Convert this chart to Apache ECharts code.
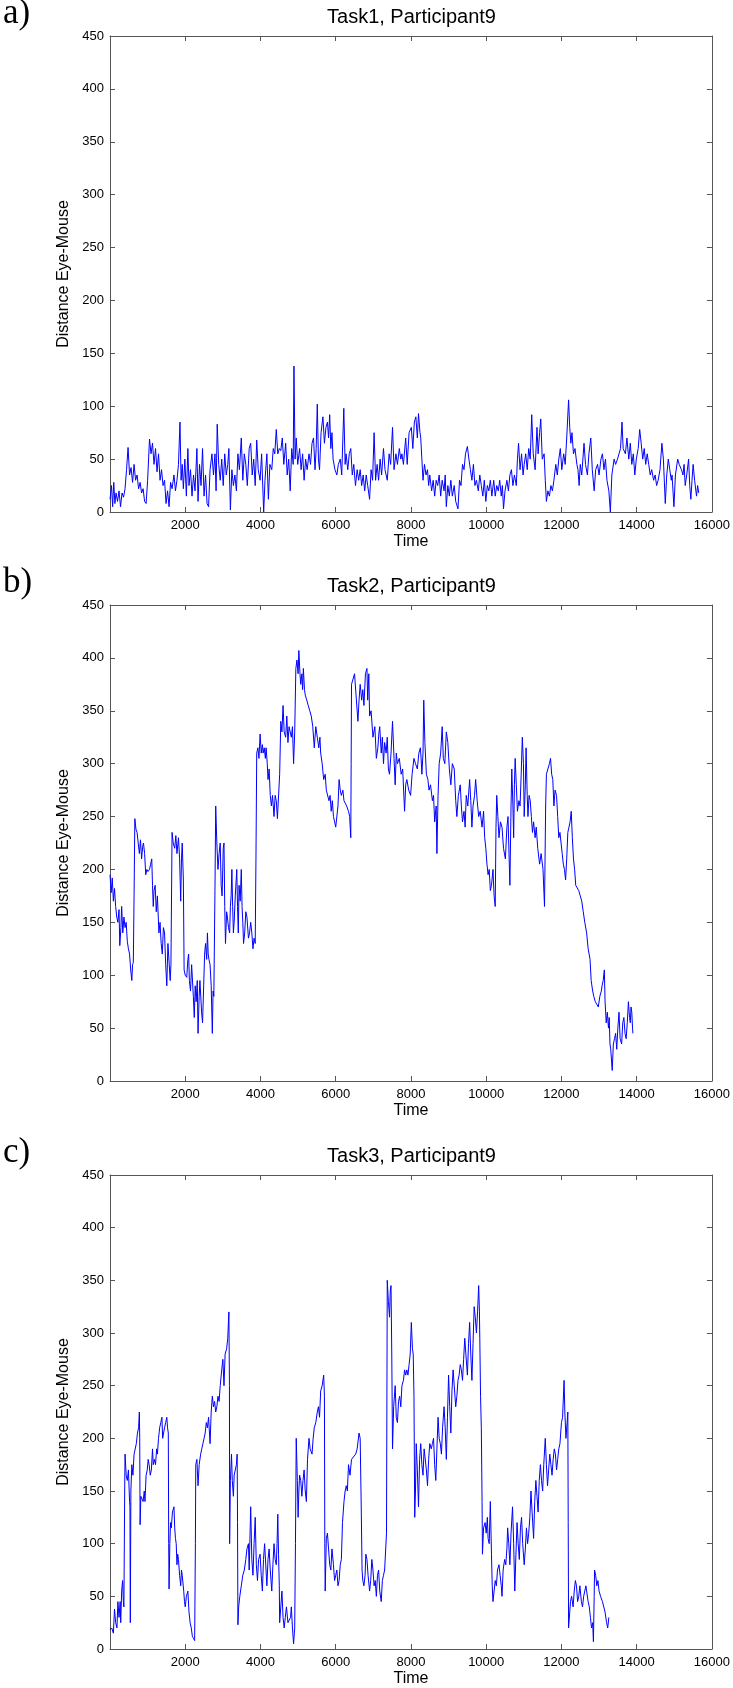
<!DOCTYPE html>
<html>
<head>
<meta charset="utf-8">
<script src="https://cdn.jsdelivr.net/npm/echarts@6/dist/echarts.min.js"></script>
<style>
html,body{margin:0;padding:0;background:#fff;}
#chart{width:733px;height:1688px;}
</style>
</head>
<body>
<div id="chart"></div>
<script>
// ---- tick labels / titles ----
var xTicks = [0, 2000, 4000, 6000, 8000, 10000, 12000, 14000, 16000];
var yTicks = [0, 50, 100, 150, 200, 250, 300, 350, 400, 450];
var panelLabels = ['a)', 'b)', 'c)'];
var panelTitles = ['Task1, Participant9', 'Task2, Participant9', 'Task3, Participant9'];

// ---- Task 1 ----
var time1 = [0,40,70,100,130,160,200,240,280,320,360,400,440,480,520,560,600,640,680,720,760,800,840,880,920,960,1000,1050,1090,1130,1170,1210,1250,1290,1330,1370,1410,1450,1490,1530,1570,1610,1650,1700,1740,1780,1820,1860,1890,1920,1950,1990,2030,2070,2100,2140,2180,2220,2260,2310,2340,2380,2420,2460,2500,2540,2580,2620,2660,2710,2750,2790,2820,2850,2890,2930,2970,3010,3050,3090,3130,3160,3200,3240,3280,3320,3360,3400,3440,3490,3530,3570,3610,3650,3700,3740,3780,3820,3860,3900,3940,3990,4030,4085,4120,4170,4210,4250,4300,4340,4380,4420,4460,4500,4540,4580,4620,4670,4710,4750,4790,4830,4870,4890,4920,4950,4990,5040,5080,5120,5160,5200,5240,5290,5330,5370,5410,5450,5480,5510,5540,5570,5610,5660,5700,5740,5780,5810,5840,5870,5900,5930,5980,6030,6070,6120,6160,6215,6250,6275,6320,6360,6400,6440,6480,6525,6570,6610,6650,6690,6730,6770,6810,6850,6900,6940,6980,7020,7060,7100,7140,7180,7220,7270,7310,7370,7420,7460,7510,7550,7600,7640,7690,7730,7760,7800,7860,7900,7950,8010,8050,8090,8130,8170,8200,8240,8260,8290,8320,8360,8400,8440,8470,8500,8550,8590,8630,8670,8710,8750,8790,8830,8880,8910,8940,8980,9020,9060,9100,9150,9190,9250,9290,9330,9370,9410,9450,9500,9540,9580,9620,9660,9700,9740,9790,9830,9870,9910,9950,9990,10030,10070,10110,10150,10200,10240,10280,10320,10360,10400,10430,10460,10500,10550,10590,10630,10670,10710,10750,10800,10830,10860,10900,10940,10980,11010,11050,11090,11130,11170,11210,11250,11300,11350,11380,11420,11450,11490,11540,11570,11600,11640,11680,11720,11760,11800,11850,11890,11930,11970,12010,12060,12100,12140,12190,12220,12250,12280,12320,12360,12410,12440,12470,12500,12540,12600,12640,12690,12730,12780,12820,12870,12910,12960,13000,13050,13090,13130,13170,13210,13260,13300,13340,13400,13440,13490,13530,13570,13610,13640,13700,13740,13790,13830,13870,13910,13950,13990,14040,14080,14120,14160,14200,14240,14280,14320,14360,14400,14450,14490,14530,14570,14620,14670,14710,14760,14800,14840,14880,14920,14940,14990,15030,15090,15130,15190,15230,15260,15290,15330,15380,15410,15440,15470,15500,15540,15590,15620,15650];
var dist1 = [12,25,5,28,8,18,10,20,5,18,14,22,40,61,35,42,28,45,30,35,22,28,18,22,10,8,30,69,55,65,45,60,38,55,30,40,25,30,8,20,5,28,22,35,20,30,45,85,30,45,22,50,15,60,25,40,15,35,20,60,10,45,25,60,15,35,8,5,40,55,35,55,20,83,45,30,50,25,55,35,45,60,2,40,25,35,20,55,40,70,30,55,45,25,60,65,35,50,25,68,40,30,55,0,30,55,12,45,40,60,55,78,55,60,58,70,45,65,35,50,20,60,45,138,50,70,45,60,40,55,30,50,40,55,45,65,70,40,60,102,50,40,75,90,65,80,85,70,92,60,75,50,40,35,45,50,35,98,45,55,40,55,60,35,45,25,40,30,40,25,35,20,35,25,12,40,30,75,30,45,30,50,35,60,40,30,55,45,80,40,55,45,60,50,55,45,70,45,75,80,60,85,90,70,93,75,70,50,30,45,35,40,25,35,20,30,15,30,25,35,15,30,20,35,5,25,15,30,15,25,10,3,30,25,45,40,55,62,50,40,30,45,25,30,20,35,25,15,30,10,25,20,30,15,30,15,25,20,30,15,25,3,20,30,20,35,40,25,35,25,50,65,40,55,35,45,55,40,60,50,92,55,40,80,55,75,88,50,55,30,10,20,15,25,20,30,45,35,50,60,40,55,45,70,106,80,65,75,55,60,45,40,25,45,35,65,45,35,55,70,40,20,40,45,35,50,55,40,50,30,20,0,35,50,45,50,55,60,85,60,55,70,50,65,45,55,35,50,60,78,65,50,60,45,55,45,35,40,30,35,25,30,40,65,50,8,35,50,40,30,35,5,35,50,45,40,35,45,25,35,50,25,12,30,45,30,15,25,18];

// ---- Task 2 ----
var time2 = [0,30,60,90,120,150,180,210,240,260,290,310,340,370,400,430,460,490,520,550,580,600,620,640,660,690,720,750,780,810,840,870,890,920,950,980,1010,1050,1080,1110,1130,1150,1170,1200,1230,1260,1300,1330,1360,1390,1420,1450,1480,1510,1540,1570,1600,1620,1650,1680,1720,1750,1780,1820,1850,1880,1900,1920,1950,1970,2000,2040,2070,2090,2110,2140,2170,2190,2215,2240,2265,2290,2320,2340,2370,2390,2410,2435,2460,2490,2515,2540,2570,2590,2610,2630,2660,2690,2720,2740,2760,2790,2810,2840,2870,2900,2930,2955,2980,3010,3030,3050,3070,3100,3120,3150,3180,3200,3220,3240,3260,3280,3300,3330,3370,3390,3410,3430,3460,3490,3510,3530,3550,3580,3610,3640,3680,3710,3740,3770,3800,3830,3860,3880,3900,3930,3960,3990,4020,4050,4070,4100,4130,4150,4180,4200,4230,4260,4290,4320,4360,4390,4420,4450,4480,4510,4540,4570,4600,4630,4670,4700,4730,4760,4790,4820,4850,4880,4910,4940,4970,5000,5020,5050,5070,5100,5120,5140,5170,5190,5230,5270,5310,5350,5390,5430,5470,5510,5550,5580,5600,5640,5680,5720,5750,5780,5820,5850,5880,5910,5940,5970,6000,6030,6060,6090,6120,6150,6190,6220,6250,6290,6340,6370,6400,6410,6420,6460,6500,6540,6590,6620,6650,6690,6720,6750,6790,6830,6850,6880,6900,6940,6990,7040,7080,7120,7150,7170,7210,7240,7270,7300,7340,7370,7400,7430,7470,7510,7550,7580,7610,7640,7690,7740,7780,7830,7860,7890,7940,7990,8030,8080,8120,8170,8210,8250,8270,8290,8320,8340,8370,8410,8450,8480,8520,8570,8600,8630,8670,8690,8720,8750,8790,8830,8860,8900,8940,8980,9020,9060,9100,9150,9190,9220,9260,9310,9340,9370,9410,9440,9470,9510,9560,9590,9620,9650,9690,9720,9760,9800,9840,9890,9930,9960,9990,10020,10050,10080,10110,10140,10180,10210,10240,10260,10280,10310,10340,10380,10420,10460,10510,10550,10580,10610,10630,10660,10680,10710,10730,10750,10770,10800,10830,10870,10900,10930,10960,10990,11010,11040,11060,11090,11110,11140,11170,11200,11230,11260,11300,11330,11370,11420,11460,11510,11530,11550,11580,11600,11640,11680,11710,11740,11770,11800,11830,11870,11900,11930,11960,11990,12020,12050,12080,12110,12140,12170,12200,12230,12260,12290,12320,12350,12380,12420,12460,12500,12540,12580,12620,12670,12710,12760,12790,12830,12860,12900,12940,12980,13020,13060,13080,13110,13140,13160,13190,13220,13250,13270,13290,13310,13350,13380,13410,13440,13470,13500,13530,13560,13600,13630,13660,13690,13720,13750,13780,13810,13830,13850,13870,13890,13900];
var dist2 = [195,178,192,170,182,165,155,150,162,128,145,165,140,155,145,150,132,125,120,105,95,110,112,175,248,238,235,225,215,228,210,222,225,215,195,200,198,200,205,210,185,165,180,185,160,175,140,150,130,120,145,140,110,90,130,130,95,110,235,225,220,232,215,230,210,170,210,225,190,105,100,98,115,120,95,85,110,110,80,60,90,75,95,45,80,95,95,65,55,90,120,130,115,140,120,115,110,90,45,85,80,180,260,225,200,215,225,185,175,220,225,165,130,160,155,145,140,165,175,200,165,140,150,175,200,165,140,185,170,200,165,150,130,140,160,155,135,140,150,140,125,135,130,210,310,315,305,328,310,318,310,315,305,315,300,285,295,270,260,270,250,270,265,248,248,290,340,330,355,330,325,345,320,335,330,325,335,300,330,390,398,385,407,385,375,385,370,390,370,365,360,355,350,345,335,315,335,325,315,325,310,300,285,290,275,275,265,270,255,265,250,245,240,240,260,285,275,270,275,265,265,260,255,250,230,300,375,380,385,365,340,360,375,360,370,355,385,390,360,385,345,350,325,335,305,315,330,335,310,325,300,320,310,325,295,290,310,340,305,280,310,300,305,290,295,255,280,285,275,270,290,305,300,295,310,315,305,290,310,360,320,290,285,275,280,265,270,245,260,215,270,300,310,335,305,300,330,320,295,280,300,295,265,250,270,280,260,245,255,240,270,260,285,265,240,260,270,285,265,250,255,240,255,230,220,205,195,200,180,185,200,175,165,240,270,250,230,245,240,220,210,240,250,210,185,260,295,260,230,280,305,280,255,265,260,290,325,300,250,280,315,270,250,270,265,250,235,245,230,240,220,205,215,200,200,165,260,290,295,300,305,290,285,260,275,270,250,230,235,225,215,205,200,190,210,235,240,245,255,230,210,200,185,185,180,175,170,160,150,140,125,115,95,85,80,75,75,70,80,85,90,95,105,75,55,65,50,60,35,30,10,35,40,45,30,50,65,40,35,55,60,45,40,55,75,60,55,70,65,50,45];

// ---- Task 3 ----
var time3 = [0,45,90,120,150,185,210,240,270,285,310,335,355,370,390,400,430,460,490,520,530,540,555,580,610,640,670,700,730,760,780,790,800,820,855,880,910,930,960,990,1015,1040,1070,1100,1130,1150,1180,1210,1240,1260,1290,1320,1350,1380,1400,1420,1450,1480,1510,1530,1550,1560,1570,1590,1610,1630,1660,1700,1720,1740,1760,1780,1800,1820,1850,1880,1900,1920,1940,1960,1980,2000,2030,2070,2100,2130,2160,2190,2220,2250,2270,2280,2310,2340,2370,2410,2440,2470,2500,2530,2560,2590,2620,2660,2690,2720,2750,2780,2810,2840,2870,2900,2930,2970,3000,3030,3060,3100,3130,3160,3175,3180,3200,3230,3250,3280,3300,3330,3360,3380,3390,3400,3420,3450,3490,3530,3570,3610,3640,3680,3700,3740,3770,3800,3830,3860,3890,3920,3950,3990,4020,4050,4080,4110,4140,4170,4200,4230,4260,4300,4330,4360,4390,4420,4440,4460,4480,4500,4510,4540,4570,4600,4630,4660,4690,4730,4770,4800,4820,4850,4880,4900,4910,4930,4950,4980,5000,5020,5040,5070,5100,5130,5160,5190,5220,5250,5290,5320,5370,5400,5430,5470,5510,5540,5570,5600,5640,5680,5700,5710,5720,5750,5780,5810,5840,5870,5900,5940,5970,6000,6030,6060,6090,6120,6150,6180,6220,6250,6280,6310,6340,6380,6420,6470,6530,6570,6620,6650,6670,6680,6700,6720,6750,6780,6800,6830,6860,6900,6930,6960,6990,7020,7050,7080,7110,7140,7170,7210,7240,7270,7300,7330,7350,7370,7400,7430,7450,7470,7490,7510,7540,7580,7610,7640,7670,7700,7730,7760,7800,7830,7860,7890,7920,7950,7980,8010,8040,8060,8080,8100,8120,8140,8170,8200,8230,8260,8290,8320,8350,8380,8410,8440,8470,8500,8540,8570,8600,8630,8660,8690,8720,8750,8780,8810,8840,8880,8910,8940,8970,9000,9030,9060,9090,9120,9150,9190,9220,9250,9280,9310,9340,9370,9400,9430,9460,9500,9530,9560,9590,9620,9650,9680,9710,9740,9770,9800,9820,9830,9850,9870,9890,9900,9930,9970,10000,10030,10050,10080,10110,10140,10160,10180,10210,10240,10270,10300,10340,10370,10400,10420,10450,10490,10520,10550,10570,10600,10630,10660,10700,10730,10760,10790,10820,10850,10880,10910,10940,10970,11010,11040,11070,11100,11130,11160,11190,11220,11260,11290,11320,11350,11380,11410,11440,11470,11500,11530,11570,11600,11630,11660,11690,11720,11750,11780,11810,11840,11870,11900,11930,11960,12000,12030,12070,12090,12120,12150,12170,12180,12190,12220,12240,12270,12310,12340,12370,12400,12430,12460,12490,12530,12560,12590,12620,12650,12680,12710,12740,12770,12800,12830,12850,12870,12880,12910,12940,12970,13000,13040,13090,13130,13160,13200,13230,13260];
var dist3 = [18,20,15,38,25,20,45,30,45,25,55,65,45,40,150,185,165,160,170,140,135,25,150,175,165,185,185,195,205,210,225,200,118,145,145,140,150,140,165,170,180,175,165,170,190,175,180,175,190,185,200,210,215,220,200,200,210,215,220,210,205,100,57,100,120,115,130,135,115,105,100,80,90,85,70,60,75,70,70,55,45,40,50,55,35,25,20,12,10,8,100,175,180,155,175,185,190,195,200,205,215,210,220,195,225,240,230,235,225,230,240,235,250,265,275,250,280,285,295,320,250,100,160,185,160,145,165,165,175,185,120,23,40,50,60,70,75,85,95,100,75,135,85,70,100,125,80,65,85,90,70,55,85,100,80,60,85,95,75,55,80,100,85,80,100,128,90,60,25,40,55,30,20,30,40,25,25,30,40,20,5,15,20,100,200,160,125,150,165,160,145,160,170,150,140,180,200,190,185,200,210,215,225,230,220,245,250,260,240,100,55,105,110,95,80,75,95,80,65,70,75,60,65,80,85,120,140,150,155,150,175,165,180,180,185,190,205,200,200,130,75,65,60,70,90,85,70,55,65,85,75,60,65,50,70,75,55,45,65,70,75,75,110,350,330,315,340,345,280,190,230,250,220,215,235,240,230,250,255,265,260,265,260,270,280,310,285,280,240,125,150,195,170,135,180,195,175,165,190,190,170,155,180,195,190,195,200,175,160,190,220,200,195,185,210,230,210,180,220,260,230,205,245,265,250,230,240,255,260,270,265,255,275,295,280,260,290,310,280,255,290,325,315,300,320,345,320,295,240,210,140,90,115,120,110,125,105,100,140,90,60,45,55,65,60,75,80,70,60,50,75,85,80,95,115,100,80,110,135,100,55,90,120,100,85,115,125,100,80,95,115,100,110,125,150,130,105,140,160,145,130,160,175,160,150,175,200,175,155,170,185,175,165,180,190,185,170,180,190,195,215,220,255,225,200,215,225,120,20,35,45,50,40,55,65,60,45,50,60,45,40,50,55,60,60,45,40,30,20,25,7,50,75,70,60,65,55,50,45,45,35,25,20,30];

function pairs(t, v) {
  var out = [];
  for (var i = 0; i < t.length; i++) out.push([t[i], v[i]]);
  return out;
}

var FONT = "'Liberation Sans', Arial, sans-serif";
var AXC = '#555555';
var gridTops = [36, 605, 1175];
var GRID_H = 476;
var times = [time1, time2, time3];
var dists = [dist1, dist2, dist3];

var option = {
  animation: false,
  backgroundColor: '#ffffff',
  title: [],
  grid: [],
  xAxis: [],
  yAxis: [],
  series: [],
  graphic: []
};

for (var g = 0; g < 3; g++) {
  option.grid.push({ left: 110, right: 20, top: gridTops[g], height: GRID_H, containLabel: false });
  option.title.push({
    text: panelTitles[g],
    left: 411.5,
    top: gridTops[g] - 19 - 11,
    textAlign: 'center',
    padding: 0,
    textStyle: { fontFamily: FONT, fontSize: 20, fontWeight: 'normal', color: '#000', lineHeight: 22 }
  });
  option.graphic.push({
    type: 'text',
    left: 3,
    top: gridTops[g] - 36 - 4,
    style: { text: panelLabels[g], font: "35px 'Liberation Serif', 'Times New Roman', serif", fill: '#000' }
  });
  // bottom x
  option.xAxis.push({
    gridIndex: g, type: 'value', position: 'bottom',
    min: xTicks[0], max: xTicks[xTicks.length - 1], interval: xTicks[1] - xTicks[0],
    name: 'Time', nameLocation: 'middle', nameGap: 22,
    nameTextStyle: { fontFamily: FONT, fontSize: 16, color: '#000' },
    axisLine: { show: true, onZero: false, lineStyle: { color: AXC, width: 1 } },
    axisTick: { show: true, inside: true, length: 5, lineStyle: { color: AXC } },
    axisLabel: { show: true, showMinLabel: false, margin: 7, fontFamily: FONT, fontSize: 13, color: '#000',
      formatter: function (v) { return String(v); } },
    splitLine: { show: false }
  });
  // top mirror
  option.xAxis.push({
    gridIndex: g, type: 'value', position: 'top',
    min: xTicks[0], max: xTicks[xTicks.length - 1], interval: xTicks[1] - xTicks[0],
    axisLine: { show: true, onZero: false, lineStyle: { color: AXC, width: 1 } },
    axisTick: { show: true, inside: true, length: 5, lineStyle: { color: AXC } },
    axisLabel: { show: false },
    splitLine: { show: false }
  });
  // left y
  option.yAxis.push({
    gridIndex: g, type: 'value', position: 'left',
    min: yTicks[0], max: yTicks[yTicks.length - 1], interval: yTicks[1] - yTicks[0],
    name: 'Distance Eye-Mouse', nameLocation: 'middle', nameGap: 29,
    nameTextStyle: { fontFamily: FONT, fontSize: 16, color: '#000' },
    axisLine: { show: true, onZero: false, lineStyle: { color: AXC, width: 1 } },
    axisTick: { show: true, inside: true, length: 5, lineStyle: { color: AXC } },
    axisLabel: { show: true, margin: 6, fontFamily: FONT, fontSize: 13, color: '#000',
      formatter: function (v) { return String(v); } },
    splitLine: { show: false }
  });
  // right mirror
  option.yAxis.push({
    gridIndex: g, type: 'value', position: 'right',
    min: yTicks[0], max: yTicks[yTicks.length - 1], interval: yTicks[1] - yTicks[0],
    axisLine: { show: true, onZero: false, lineStyle: { color: AXC, width: 1 } },
    axisTick: { show: true, inside: true, length: 5, lineStyle: { color: AXC } },
    axisLabel: { show: false },
    splitLine: { show: false }
  });
  option.series.push({
    type: 'line',
    xAxisIndex: g * 2,
    yAxisIndex: g * 2,
    data: pairs(times[g], dists[g]),
    showSymbol: false,
    symbol: 'none',
    lineStyle: { color: '#0000ff', width: 1 },
    silent: true
  });
}

var chart = echarts.init(document.getElementById('chart'), null, { renderer: 'canvas' });
chart.setOption(option);
</script>
</body>
</html>
